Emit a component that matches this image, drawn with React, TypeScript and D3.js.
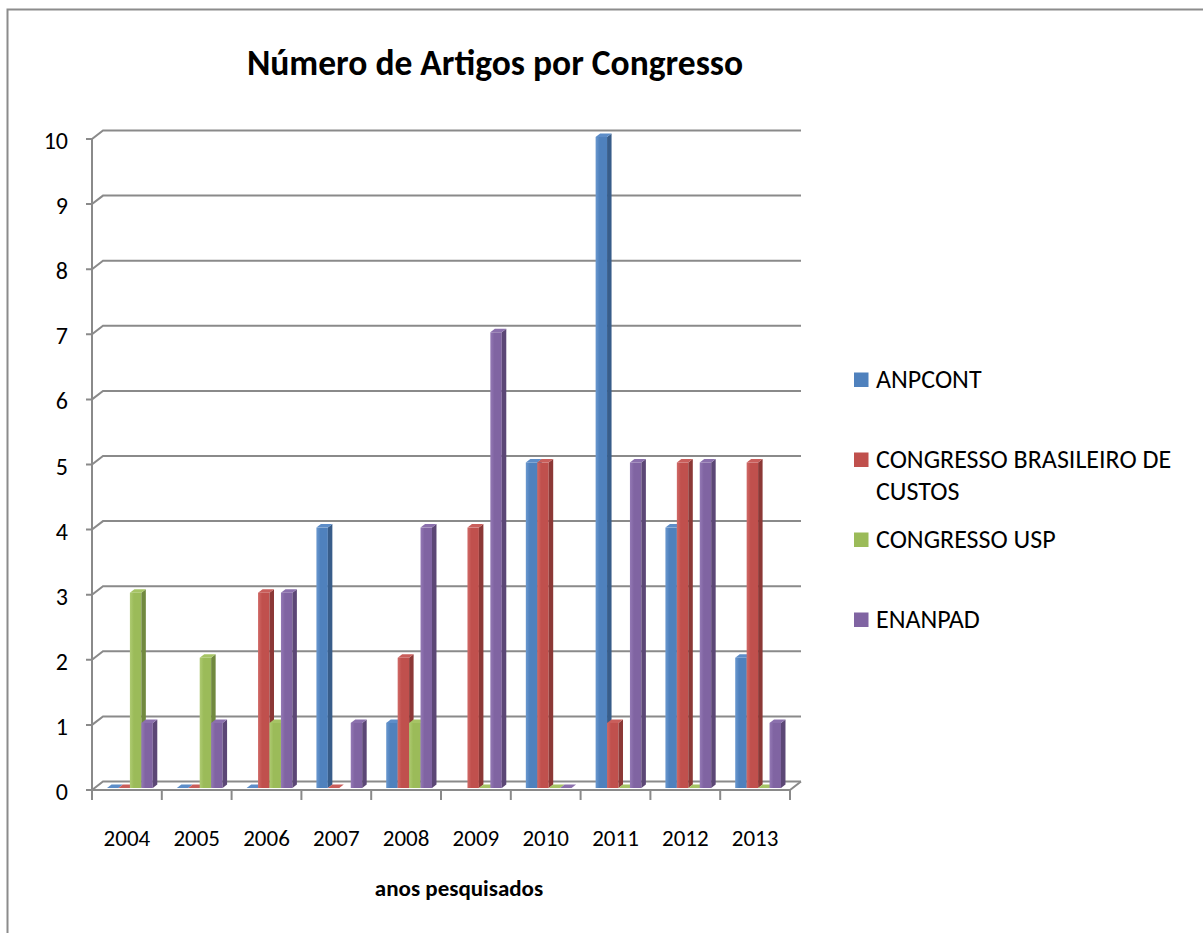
import * as d3 from "d3";

// anos e séries
const years = ["2004", "2005", "2006", "2007", "2008", "2009", "2010", "2011", "2012", "2013"];
const seriesNames = ["ANPCONT", "CONGRESSO BRASILEIRO DE CUSTOS", "CONGRESSO USP", "ENANPAD"];
const legendLines = [["ANPCONT"], ["CONGRESSO BRASILEIRO DE", "CUSTOS"], ["CONGRESSO USP"], ["ENANPAD"]];

// valores (null = sem barra)
const anpcont = [0, 0, 0, 4, 1, null, 5, 10, 4, 2];
const congressoCustos = [0, 0, 3, 0, 2, 4, 5, 1, 5, 5];
const congressoUsp = [3, 2, 1, null, 1, 0, 0, 0, 0, 0];
const enanpad = [1, 1, 3, 1, 4, 7, 0, 5, 5, 1];
const yTicks = [0, 1, 2, 3, 4, 5, 6, 7, 8, 9, 10];

const seriesValues = [anpcont, congressoCustos, congressoUsp, enanpad];

const WIDTH = 1203;
const HEIGHT = 933;
const FONT = "Carlito, Calibri, Lato, sans-serif";

// front / top / side colours for each series
const colors = [
  { front: "#4F81BD", light: "#6A98CF", top: "#5D8DC8", side: "#385D8A" },
  { front: "#C0504D", light: "#D06A67", top: "#C95E5B", side: "#8C3836" },
  { front: "#9BBB59", light: "#AECB72", top: "#A6C465", side: "#71893F" },
  { front: "#8064A2", light: "#9479B5", top: "#8B70AD", side: "#5C4776" },
];

// 3d offsets
const WALL = { dx: 11, dy: -8.5 };
const BAR_FRONT = { dx: 3, dy: -2 };
const BAR_DEPTH = { dx: 4.5, dy: -3.5 };

const x = d3.scaleBand<string>().domain(years).range([92, 790]);
const inner = d3.scaleBand<string>().domain(seriesNames).range([0, x.bandwidth()]).paddingOuter(1.05);
const y = d3.scaleLinear().domain([0, 10]).range([790, 139]);

const gridColor = "#8a8a8a";

function barPaths(x0: number, w: number, v: number) {
  const xl = x0 + BAR_FRONT.dx;
  const xr = xl + w;
  const yb = y(0) + BAR_FRONT.dy;
  const yt = y(v) + BAR_FRONT.dy;
  const { dx, dy } = BAR_DEPTH;
  const top = `M${xl},${yt}L${xl + dx},${yt + dy}L${xr + dx},${yt + dy}L${xr},${yt}Z`;
  const side = `M${xr},${yt}L${xr + dx},${yt + dy}L${xr + dx},${yb + dy}L${xr},${yb}Z`;
  return { xl, xr, yb, yt, top, side };
}

export default function App() {
  const x1 = 92;
  const x2 = 790;
  return (
    <svg
      width={WIDTH}
      height={HEIGHT}
      style={{ position: "absolute", left: 0, top: 0, background: "#fff" }}
      fontFamily={FONT}
    >
      <defs>
        {colors.map((c, i) => (
          <linearGradient key={i} id={`g${i}`} x1="0" x2="1" y1="0" y2="0">
            <stop offset="0" stopColor={c.light} />
            <stop offset="0.35" stopColor={c.front} />
            <stop offset="1" stopColor={c.front} />
          </linearGradient>
        ))}
      </defs>
      <rect x={7.5} y={9.5} width={WIDTH} height={HEIGHT} fill="#fff" stroke="#8c8c8c" strokeWidth={2} />

      <text x={495} y={75} textAnchor="middle" fontSize={35.5} fontWeight="bold">
        Número de Artigos por Congresso
      </text>

      {/* back wall gridlines */}
      {yTicks.map((t) => (
        <g key={t} stroke={gridColor} strokeWidth={2} fill="none">
          <path d={`M${x1 - 6},${y(t)}L${x1},${y(t)}L${x1 + WALL.dx},${y(t) + WALL.dy}L${x2 + WALL.dx},${y(t) + WALL.dy}`} />
        </g>
      ))}
      <line x1={x1} x2={x1} y1={y(10)} y2={y(0)} stroke={gridColor} strokeWidth={2} />

      {/* floor */}
      <path
        d={`M${x1},${y(0)}L${x2},${y(0)}L${x2 + WALL.dx},${y(0) + WALL.dy}`}
        fill="none"
        stroke={gridColor}
        strokeWidth={2}
      />
      {years.concat([""]).map((yr, i) => {
        const xt = x1 + i * x.step();
        return <line key={i} x1={xt} x2={xt} y1={y(0)} y2={y(0) + 10} stroke={gridColor} strokeWidth={2} />;
      })}

      {/* bars */}
      {years.map((yr, i) => (
        <g key={yr}>
          {seriesNames.map((s, j) => {
            const v = seriesValues[j][i];
            if (v === null || v === undefined) return null;
            const p = barPaths((x(yr) as number) + (inner(s) as number), inner.bandwidth(), v);
            const c = colors[j];
            return (
              <g key={s}>
                {v > 0 && <rect x={p.xl} y={p.yt} width={p.xr - p.xl} height={p.yb - p.yt} fill={`url(#g${j})`} />}
                <path d={p.side} fill={c.side} />
                <path d={p.top} fill={c.top} />
              </g>
            );
          })}
        </g>
      ))}

      {/* y tick labels */}
      {yTicks.map((t) => (
        <text key={t} x={68} y={y(t) + 10} textAnchor="end" fontSize={24}>
          {t}
        </text>
      ))}

      {/* x labels */}
      {years.map((yr) => (
        <text key={yr} x={(x(yr) as number) + x.bandwidth() / 2} y={846} textAnchor="middle" fontSize={23}>
          {yr}
        </text>
      ))}
      <text x={459} y={896} textAnchor="middle" fontSize={23} fontWeight="bold">
        anos pesquisados
      </text>

      {/* legend */}
      {legendLines.map((lines, i) => {
        const base = [388, 468, 548, 628][i];
        return (
          <g key={i}>
            <rect x={854} y={base - 15.5} width={14.5} height={14.5} fill={colors[i].front} />
            {lines.map((ln, k) => (
              <text key={k} x={876} y={base + k * 32} fontSize={26}>
                {ln}
              </text>
            ))}
          </g>
        );
      })}
    </svg>
  );
}
